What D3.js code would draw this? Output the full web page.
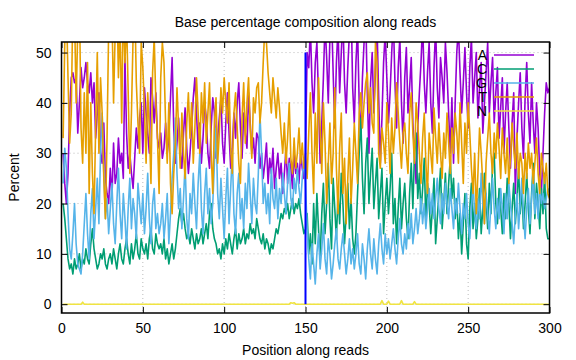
<!DOCTYPE html>
<html>
<head>
<meta charset="utf-8">
<script src="https://cdn.jsdelivr.net/npm/d3@7"></script>
<style>
  body { margin: 0; background: #fff; }
  svg text { font-family: "Liberation Sans", Arial, sans-serif; fill: #000; }
  .grid line { stroke: #bbb; stroke-dasharray: 1,3; }
</style>
</head>
<body>
<svg id="chart" width="576" height="360"></svg>
<script>
var seriesNames = ["A", "C", "G", "T", "N"];
var seriesColors = ["#9400d3", "#009e73", "#56b4e9", "#e69f00", "#f0e442"];
var xTicks = [0, 50, 100, 150, 200, 250, 300];
var yTicks = [0, 10, 20, 30, 40, 50];
var splitPos = 150;

var valuesA = [
  30, 24, 20, 26, 38, 45, 46, 44, 45, 34, 40, 47, 43, 45, 48, 44, 42, 46, 40, 44, 33, 38, 42, 30, 28, 36, 25, 22, 20, 27,
  21, 32, 24, 26, 33, 28, 30, 25, 49, 34, 27, 30, 26, 23, 29, 35, 31, 37, 40, 30, 43, 38, 34, 30, 45, 41, 36, 42, 33, 31,
  34, 29, 31, 36, 30, 33, 41, 49, 35, 28, 32, 37, 30, 27, 34, 39, 31, 26, 30, 35, 41, 45, 38, 31, 36, 28, 33, 40, 37, 30,
  27, 35, 41, 38, 29, 33, 37, 41, 32, 28, 36, 42, 34, 27, 31, 38, 33, 40, 44, 35, 29, 38, 34, 31, 42, 36, 30, 33, 28, 34,
  33, 27, 30, 25, 28, 32, 24, 29, 26, 31, 23, 27, 30, 25, 28, 22, 26, 31, 24, 29, 27, 23, 30, 26, 28, 24, 30, 27, 25, 30,
  50, 47, 55, 44, 38, 48, 52, 41, 28, 36, 45, 56, 49, 40, 53, 58, 46, 35, 48, 55, 42, 50, 57, 44, 38, 47, 54, 60, 43, 36,
  48, 55, 40, 33, 45, 52, 58, 42, 30, 44, 50, 38, 46, 55, 41, 28, 37, 48, 54, 45, 36, 42, 50, 57, 44, 35, 47, 53, 40, 32,
  45, 51, 38, 43, 49, 36, 30, 24, 35, 42, 48, 56, 44, 38, 46, 52, 40, 34, 47, 55, 43, 37, 49, 45, 40, 52, 46, 38, 30, 41,
  28, 40, 50, 55, 46, 38, 44, 51, 42, 35, 47, 53, 40, 45, 50, 37, 43, 48, 34, 40, 46, 52, 38, 44, 49, 36, 42, 47, 33, 39,
  45, 30, 38, 44, 35, 27, 36, 42, 22, 33, 40, 46, 35, 29, 41, 48, 38, 32, 44, 36, 30, 40, 35, 26, 22, 30, 38, 44, 42, 43
];

var valuesC = [
  20, 17, 13, 9, 7, 8, 6, 9, 7, 8, 10, 7, 9, 8, 11, 9, 8, 12, 15, 11, 9, 7, 8, 10, 9, 11, 8, 7, 9, 10,
  8, 11, 9, 7, 10, 12, 9, 8, 11, 13, 10, 8, 12, 9, 11, 14, 10, 9, 13, 11, 10, 12, 9, 13, 15, 11, 10, 14, 12, 11,
  12, 10, 13, 9, 11, 8, 10, 12, 9, 11, 14, 17, 19, 16, 18, 15, 13, 14, 12, 15, 13, 11, 14, 12, 13, 15, 12, 14, 16, 13,
  18, 20, 15, 13, 12, 10, 11, 9, 12, 10, 13, 11, 14, 12, 10, 13, 15, 11, 14, 12, 13, 15, 12, 14, 13, 16, 14, 15, 13, 17,
  15, 13, 12, 14, 11, 13, 12, 10, 12, 11, 13, 15, 14, 16, 18, 17, 19, 18, 20, 17, 19, 21, 18, 20, 19, 21, 18, 16, 14, 15,
  18, 10, 14, 8, 20, 12, 22, 15, 9, 18, 24, 14, 20, 28, 17, 11, 25, 19, 13, 22, 16, 26, 20, 12, 18, 24, 15, 21, 13, 10,
  14, 22, 30, 37, 25, 18, 28, 33, 20, 26, 31, 19, 24, 29, 17, 22, 27, 14, 20, 25, 18, 23, 30, 16, 21, 12, 19, 25, 15, 20,
  24, 17, 13, 22, 28, 19, 30, 34, 21, 26, 18, 23, 29, 16, 24, 20, 14, 19, 25, 12, 17, 22, 27, 15, 20, 26, 18, 24, 29, 21,
  25, 17, 21, 13, 18, 10, 16, 22, 12, 9, 19, 24, 15, 20, 13, 17, 23, 14, 19, 26, 21, 15, 24, 18, 28, 30, 20, 16, 23, 19,
  14, 22, 17, 25, 20, 13, 19, 24, 16, 21, 27, 18, 23, 15, 20, 26, 19, 14, 22, 28, 17, 24, 20, 15, 23, 18, 26, 15, 13, 13
];

var valuesG = [
  24, 31, 27, 18, 11, 9, 14, 20, 12, 8, 7, 6, 10, 16, 22, 14, 9, 18, 23, 13, 19, 25, 16, 30, 38, 26, 17, 21, 14, 19,
  24, 16, 12, 20, 27, 18, 13, 22, 17, 11, 19, 25, 15, 21, 18, 13, 24, 20, 16, 22, 14, 19, 26, 17, 12, 20, 23, 15, 18, 14,
  16, 20, 13, 17, 22, 12, 18, 25, 30, 37, 26, 19, 23, 15, 21, 28, 17, 13, 22, 18, 26, 20, 15, 24, 30, 19, 14, 22, 27, 18,
  23, 16, 20, 28, 35, 22, 17, 25, 19, 13, 21, 27, 16, 23, 30, 18, 14, 22, 26, 17, 21, 15, 24, 19, 28, 22, 16, 25, 20, 18,
  26, 38, 30, 20, 24, 18, 22, 16, 27, 21, 19, 25, 17, 23, 20, 26, 22, 18, 24, 28, 21, 19, 25, 22, 27, 23, 20, 25, 29, 24,
  15, 9, 5, 12, 8, 4, 10, 14, 7, 11, 16, 9, 6, 13, 10, 5, 8, 12, 15, 9, 7, 11, 14, 10, 6, 9, 13, 8, 11, 7,
  10, 14, 8, 6, 12, 9, 5, 11, 15, 10, 7, 13, 9, 6, 12, 16, 11, 8, 14, 10, 13, 9, 12, 15, 11, 8, 13, 17, 12, 10,
  14, 11, 16, 13, 18, 12, 15, 19, 14, 17, 21, 16, 20, 15, 19, 23, 18, 22, 17, 21, 25, 19, 16, 22, 18, 24, 20, 17, 23, 19,
  15, 21, 18, 24, 19, 14, 20, 17, 22, 16, 13, 19, 24, 18, 15, 21, 17, 26, 20, 16, 22, 18, 14, 20, 25, 19, 15, 21, 17, 23,
  19, 14, 22, 17, 24, 20, 16, 12, 18, 22, 15, 20, 25, 18, 13, 19, 23, 16, 21, 26, 18, 22, 17, 24, 20, 22, 19, 21, 23, 22
];

var valuesT = [
  33, 52, 60, 45, 32, 38, 60, 58, 40, 55, 62, 35, 28, 42, 30, 48, 22, 40, 26, 18, 35, 50, 30, 45, 38, 25, 17, 33, 55, 62,
  58, 40, 54, 62, 45, 56, 36, 60, 48, 57, 42, 26, 38, 53, 61, 44, 36, 30, 52, 47, 39, 28, 42, 35, 24, 46, 53, 40, 33, 22,
  45, 52, 48, 36, 28, 40, 24, 18, 26, 32, 43, 35, 27, 38, 30, 25, 36, 42, 33, 40, 28, 35, 45, 38, 30, 42, 36, 44, 32, 38,
  44, 30, 22, 36, 41, 28, 34, 43, 38, 45, 40, 36, 44, 31, 26, 38, 42, 35, 28, 24, 37, 44, 32, 40, 45, 35, 29, 41, 38, 43,
  44, 36, 40, 48, 55, 52, 46, 42, 38, 45, 41, 37, 43, 39, 34, 30, 36, 28, 33, 40, 29, 26, 33, 27, 30, 35, 28, 32, 27, 30,
  25, 34, 42, 30, 22, 38, 28, 45, 35, 26, 40, 32, 20, 28, 36, 24, 30, 43, 27, 18, 31, 38, 22, 29, 16, 25, 33, 20, 27, 36,
  30, 24, 38, 42, 35, 40, 44, 46, 38, 43, 36, 34, 52, 48, 30, 27, 35, 32, 28, 40, 34, 26, 37, 30, 35, 44, 38, 32, 27, 34,
  36, 30, 26, 38, 42, 34, 28, 40, 36, 30, 24, 33, 38, 28, 22, 34, 30, 26, 39, 33, 28, 36, 30, 25, 34, 29, 38, 32, 26, 35,
  30, 38, 34, 28, 40, 32, 24, 36, 30, 40, 34, 27, 22, 30, 18, 26, 35, 30, 24, 16, 28, 33, 38, 30, 26, 34, 29, 36, 31, 25,
  35, 30, 26, 33, 24, 29, 36, 31, 27, 34, 25, 30, 28, 22, 30, 25, 32, 27, 30, 24, 28, 33, 26, 22, 30, 27, 24, 28, 22, 21
];

var valuesN = [
  0, 0, 0, 0, 0, 0, 0, 0, 0, 0, 0, 0, 0.4, 0, 0, 0, 0, 0, 0, 0, 0, 0, 0, 0, 0, 0, 0, 0, 0, 0,
  0, 0, 0, 0, 0, 0, 0, 0, 0, 0, 0, 0, 0, 0, 0, 0, 0, 0, 0, 0, 0, 0, 0, 0, 0, 0, 0, 0, 0, 0,
  0, 0, 0, 0, 0, 0, 0, 0, 0, 0, 0, 0, 0, 0, 0, 0, 0, 0, 0, 0, 0, 0, 0, 0, 0, 0, 0, 0, 0, 0,
  0, 0, 0, 0, 0, 0, 0, 0, 0, 0, 0, 0, 0, 0, 0, 0, 0, 0, 0, 0, 0, 0, 0, 0, 0, 0, 0, 0, 0, 0,
  0, 0, 0, 0, 0, 0, 0, 0, 0, 0, 0, 0, 0, 0, 0, 0, 0, 0, 0, 0, 0.3, 0.2, 0.3, 0, 0, 0, 0, 0, 0, 0,
  0, 0, 0, 0, 0, 0, 0, 0, 0, 0, 0, 0, 0, 0, 0, 0, 0, 0, 0, 0, 0, 0, 0, 0, 0, 0, 0, 0, 0, 0,
  0, 0, 0, 0, 0, 0, 0, 0, 0, 0, 0, 0, 0, 0, 0, 0, 0.7, 0, 0, 0, 0.6, 0, 0, 0, 0, 0, 0, 0, 0.7, 0,
  0, 0, 0, 0, 0, 0, 0.5, 0, 0, 0, 0, 0, 0, 0, 0, 0, 0, 0, 0, 0, 0, 0, 0, 0, 0, 0, 0, 0, 0, 0,
  0, 0, 0, 0, 0, 0, 0, 0, 0, 0, 0, 0, 0, 0, 0, 0, 0, 0, 0, 0, 0, 0, 0, 0, 0, 0, 0, 0, 0, 0,
  0, 0, 0, 0, 0, 0, 0, 0, 0, 0, 0, 0, 0, 0, 0, 0, 0, 0, 0, 0, 0, 0, 0, 0, 0, 0, 0, 0, 0, 0
];

var seriesValues = [valuesA, valuesC, valuesG, valuesT, valuesN];

function drawChart() {
    var svg = d3.select("#chart");
    var left = 61.5, right = 549.5, top = 42, bottom = 313;

    var x = d3.scaleLinear().domain([0, 300]).range([left, right]);
    var y = d3.scaleLinear().domain([-1.75, 52.1]).range([bottom, top]);

    svg.append("text")
        .attr("x", (left + right) / 2)
        .attr("y", 27)
        .attr("text-anchor", "middle")
        .style("font-size", "14px")
        .text("Base percentage composition along reads");

    // dotted grid
    var grid = svg.append("g").attr("class", "grid");
    grid.selectAll(".gx")
        .data(xTicks.slice(1, -1))
        .enter().append("line")
        .attr("x1", function(d) { return x(d); })
        .attr("x2", function(d) { return x(d); })
        .attr("y1", top).attr("y2", bottom);
    grid.selectAll(".gy")
        .data(yTicks)
        .enter().append("line")
        .attr("x1", left).attr("x2", right)
        .attr("y1", function(d) { return y(d); })
        .attr("y2", function(d) { return y(d); });

    svg.append("defs").append("clipPath").attr("id", "plotclip")
        .append("rect")
        .attr("x", left).attr("y", top)
        .attr("width", right - left).attr("height", bottom - top);

    var line = d3.line()
        .x(function(d) { return x(d[0]); })
        .y(function(d) { return y(d[1]); });

    var plot = svg.append("g").attr("clip-path", "url(#plotclip)");

    seriesValues.forEach(function(vals, k) {
        var pts = vals.map(function(v, i) { return [i + 1, v]; });
        plot.append("path")
            .datum(pts)
            .attr("d", line)
            .attr("fill", "none")
            .attr("stroke", seriesColors[k])
            .attr("stroke-width", 1.6)
            .attr("stroke-linejoin", "round");
    });

    // read boundary marker
    plot.append("line")
        .attr("x1", x(splitPos)).attr("x2", x(splitPos))
        .attr("y1", y(0)).attr("y2", y(50))
        .attr("stroke", "#0000ff")
        .attr("stroke-width", 2);

    // axes with inward ticks, mirrored
    var axB = d3.axisBottom(x).tickValues(xTicks).tickSizeInner(-6).tickSizeOuter(0).tickPadding(10);
    var axT = d3.axisTop(x).tickValues(xTicks).tickSizeInner(-6).tickSizeOuter(0).tickFormat("");
    var axL = d3.axisLeft(y).tickValues(yTicks).tickSizeInner(-6).tickSizeOuter(0).tickPadding(10);
    var axR = d3.axisRight(y).tickValues(yTicks).tickSizeInner(-6).tickSizeOuter(0).tickFormat("");

    svg.append("g").attr("transform", "translate(0," + bottom + ")").call(axB);
    svg.append("g").attr("transform", "translate(0," + top + ")").call(axT);
    svg.append("g").attr("transform", "translate(" + left + ",0)").call(axL);
    svg.append("g").attr("transform", "translate(" + right + ",0)").call(axR);

    svg.selectAll(".domain").remove();
    svg.selectAll(".tick line").attr("stroke", "#000").attr("stroke-width", 1);
    svg.selectAll(".tick text")
        .style("font-size", "14px")
        .style("font-family", "'Liberation Sans', Arial, sans-serif");

    svg.append("rect")
        .attr("x", left).attr("y", top)
        .attr("width", right - left).attr("height", bottom - top)
        .attr("fill", "none")
        .attr("stroke", "#000")
        .attr("stroke-width", 1.5);

    svg.append("text")
        .attr("x", (left + right) / 2)
        .attr("y", 355)
        .attr("text-anchor", "middle")
        .style("font-size", "14px")
        .text("Position along reads");

    svg.append("text")
        .attr("transform", "translate(19," + ((top + bottom) / 2) + ") rotate(-90)")
        .attr("text-anchor", "middle")
        .style("font-size", "14px")
        .text("Percent");

    // key
    var key = svg.append("g");
    seriesNames.forEach(function(name, k) {
        var ky = 55 + k * 14;
        key.append("text")
            .attr("x", 487)
            .attr("y", ky + 5)
            .attr("text-anchor", "end")
            .style("font-size", "14px")
            .text(name);
        key.append("line")
            .attr("x1", 494).attr("x2", 534)
            .attr("y1", ky).attr("y2", ky)
            .attr("stroke", seriesColors[k])
            .attr("stroke-width", 1.6);
    });
}

drawChart();
</script>
</body>
</html>
